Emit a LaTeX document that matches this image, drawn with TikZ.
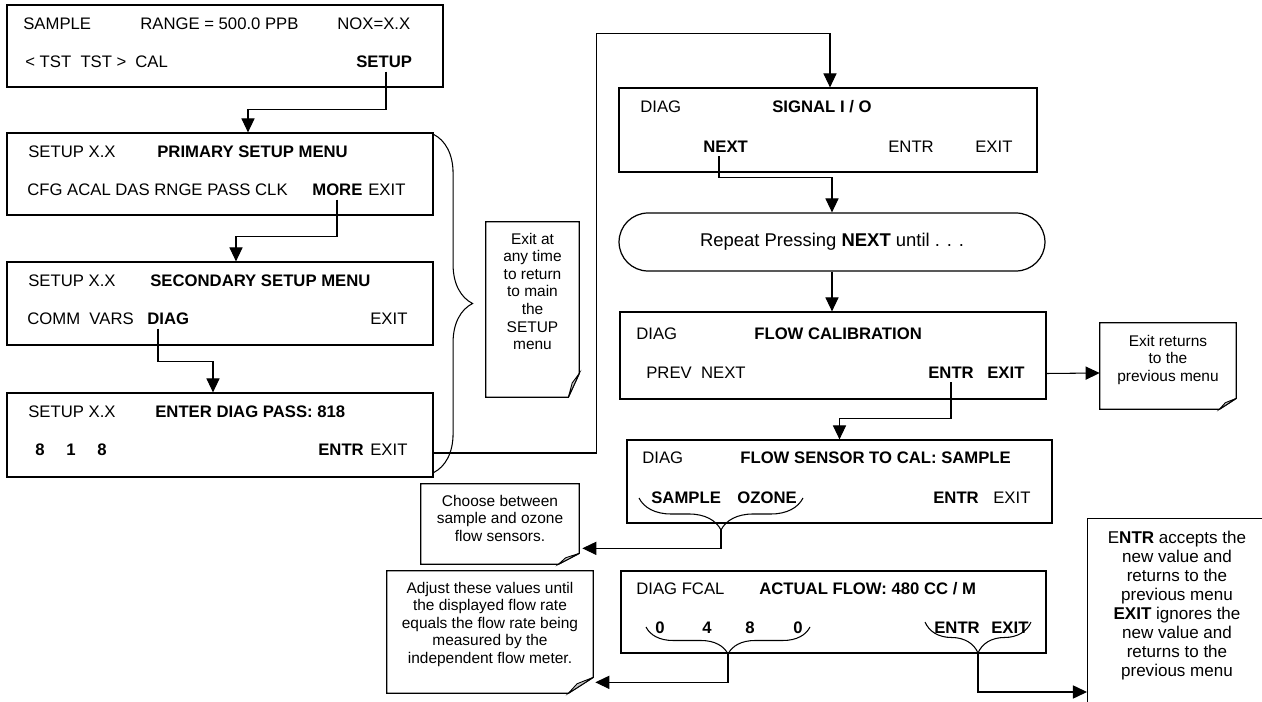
\documentclass[tikz,border=0pt]{standalone}
\usepackage{fontspec}
\setmainfont{Liberation Sans}
\usetikzlibrary{arrows.meta,positioning,calc,decorations.pathreplacing}
\newcommand{\scrfont}{\fontsize{9.5}{11.4}\selectfont}
\newcommand{\notefont}{\fontsize{8.8}{10}\selectfont}
\newcommand{\bignotefont}{\fontsize{9.7}{10.8}\selectfont}
% note frame with a folded lower right corner
\newcommand{\noteframe}[3]{%
  \draw[line width=0.7pt] (#1.north west) -- (#1.north east) -- ($(#1.south east)+(0,#3)$)
    -- ($(#1.south east)+(-#2,0)$) -- (#1.south west) -- cycle;
  \filldraw[fill=black!22, line width=0.5pt] ($(#1.south east)+(0,#3)$)
    -- ($(#1.south east)+(-0.65*#2,0.6*#3)$) -- ($(#1.south east)+(-#2,0)$) -- cycle;}

\begin{document}
\begin{tikzpicture}[x=0.02cm, y=0.02cm,
    screen/.style={draw, line width=0.7pt, inner sep=0pt, minimum height=1.64cm},
    key/.style={font=\scrfont, inner sep=0pt, anchor=base west},
    bkey/.style={key, font=\scrfont\bfseries},
    flow/.style={line width=0.6pt, -{Triangle[length=8pt, width=7.5pt]}},
    curly/.style={line width=0.6pt, decorate, decoration={brace, amplitude=#1}},
    notebox/.style={inner sep=0pt},
    notetext/.style={font=\notefont, align=center, inner sep=0pt, anchor=north}]
    \clip (0,0) rectangle (1262,-702);

    % left column: setup menus
    \node[screen, minimum width=8.72cm] (home) at (225,-46) {};
    \node[key]  (s1a) at (23,-30)  {SAMPLE};
    \node[key]  (s1b) at (140,-30) {RANGE = 500.0 PPB};
    \node[key]  (s1c) at (337,-30) {NOX=X.X};
    \node[key]  (s1d) at (25,-68)  {< TST\ \ TST >};
    \node[key]  (s1e) at (135,-68) {CAL};
    \node[bkey] (kSetup) at (356,-68) {SETUP};

    \node[screen, minimum width=8.52cm] (primary) at (220,-174) {};
    \node[key]  (s2a) at (28,-158)  {SETUP X.X};
    \node[bkey] (s2b) at (157,-158) {PRIMARY SETUP MENU};
    \node[key]  (s2c) at (27,-196)  {CFG ACAL DAS RNGE PASS CLK};
    \node[bkey] (kMore) at (312,-196) {MORE};
    \node[key]  (s2d) at (368,-196) {EXIT};

    \node[screen, minimum width=8.52cm, minimum height=1.66cm] (secondary) at (220,-303.5) {};
    \node[key]  (s3a) at (28,-287)  {SETUP X.X};
    \node[bkey] (s3b) at (150,-287) {SECONDARY SETUP MENU};
    \node[key]  (s3c) at (27,-325)  {COMM\ \ VARS};
    \node[bkey] (kDiag) at (147,-325) {DIAG};
    \node[key]  (s3d) at (370,-325) {EXIT};

    \node[screen, minimum width=8.52cm, minimum height=1.68cm] (pass) at (220,-435) {};
    \node[key]  (s4a) at (28,-418)  {SETUP X.X};
    \node[bkey] (s4b) at (155,-418) {ENTER DIAG PASS: 818};
    \foreach \x/\d in {35/8,66/1,97/8}
        \node[bkey] (pd\x) at (\x,-456) {\d};
    \node[bkey] (s4c) at (318,-456) {ENTR};
    \node[key]  (s4d) at (370,-456) {EXIT};

    \draw[flow] ($(kSetup.south west)+(30,-3)$) |- ($(primary.north)+(28,23)$) -- ++(0,-23);
    \draw[flow] ($(kMore.south west)+(25,-3)$) |- ($(secondary.north)+(16,25)$) -- ++(0,-25);
    \draw[flow] ($(kDiag.south west)+(11,-3)$) |- ($(pass.north)+(-7,31)$) -- ++(0,-31);

    \draw[curly=0.78cm] ($(primary.north east)+(0,-2)$) -- ($(pass.south east)+(0,5)$);
    \node[notebox, minimum width=1.86cm, minimum height=3.5cm] (anyNote) at (532.5,-309.5) {};
    \noteframe{anyNote}{11}{24}
    \node[notetext] (anyText) at ($(anyNote.north)+(0,-11)$)
        {Exit at\\any time\\to return\\to main\\the\\SETUP\\menu};

    % right column: diagnostics
    \node[screen, minimum width=8.36cm, minimum height=1.68cm] (signal) at (828,-130) {};
    \node[key]  (t1a) at (640,-113) {DIAG};
    \node[bkey] (t1b) at (772,-113) {SIGNAL I / O};
    \node[bkey] (kNext) at (703,-153) {NEXT};
    \node[key]  (t1c) at (888,-153) {ENTR};
    \node[key]  (t1d) at (975,-153) {EXIT};

    \draw[flow] ($(pass.east)+(0,-18)$) -- ++(163,0) |- ($(signal.north)+(2,54)$) -- ++(0,-54);

    \node[draw, line width=0.7pt, rounded corners=0.58cm, minimum width=8.52cm, minimum height=1.16cm,
        font=\fontsize{10.5}{12}\selectfont] (repeat) at (832,-242) {Repeat Pressing \textbf{NEXT} until . . .};
    \draw[flow] ($(kNext.south west)+(16,-3)$) |- ($(repeat.north)+(0,35)$) -- (repeat.north);

    \node[screen, minimum width=8.52cm, minimum height=1.74cm] (flowcal) at (833,-355.5) {};
    \node[key]  (t2a) at (636,-340) {DIAG};
    \node[bkey] (t2b) at (754,-340) {FLOW CALIBRATION};
    \node[key]  (t2c) at (646,-379) {PREV\ \ NEXT};
    \node[bkey] (kEntr) at (928,-379) {ENTR};
    \node[bkey] (t2d) at (987,-379) {EXIT};
    \draw[flow] (repeat.south) -- (repeat.south |- flowcal.north);

    \node[notebox, minimum width=2.72cm, minimum height=1.72cm] (exitNote) at (1168,-366) {};
    \noteframe{exitNote}{17}{11}
    \node[notetext] (exitText) at ($(exitNote.north)+(0,-12)$) {Exit returns\\to the\\previous menu};
    \draw[flow] ($(flowcal.east)+(0,-18)$) -- ($(exitNote.west)+(0,-7)$);

    \node[screen, minimum width=8.5cm, minimum height=1.66cm] (sensor) at (839.5,-481.5) {};
    \node[key]  (t3a) at (642,-464) {DIAG};
    \node[bkey] (t3b) at (740,-464) {FLOW SENSOR TO CAL: SAMPLE};
    \node[bkey] (t3c) at (651,-504) {SAMPLE};
    \node[bkey] (t3d) at (737,-504) {OZONE};
    \node[bkey] (t3e) at (933,-504) {ENTR};
    \node[key]  (t3f) at (993,-504) {EXIT};
    \draw[flow] ($(kEntr.south west)+(23,-3)$) |- ($(sensor.north)+(0,21)$) -- (sensor.north);

    \node[notebox, minimum width=3.16cm, minimum height=1.6cm] (chooseNote) at (500,-524) {};
    \noteframe{chooseNote}{21}{11}
    \node[notetext] (chooseText) at ($(chooseNote.north)+(0,-11)$)
        {Choose between\\sample and ozone\\flow sensors.};
    \draw[curly=0.64cm] (803,-498) -- (639,-498);
    \coordinate (selTip) at (721,-530);
    \draw[flow] (selTip) |- ($(chooseNote.south east)+(3,16)$);

    \node[screen, minimum width=8.5cm] (actual) at (833.5,-612) {};
    \node[key]  (t4a) at (636,-595) {DIAG FCAL};
    \node[bkey] (t4b) at (759,-595) {ACTUAL FLOW: 480 CC / M};
    \foreach \x/\d in {655/0,702/4,745/8,793/0}
        \node[bkey] (fd\x) at (\x,-634) {\d};
    \node[bkey] (t4c) at (934,-634) {ENTR};
    \node[bkey] (t4d) at (991,-634) {EXIT};

    \node[notebox, minimum width=4.12cm, minimum height=2.44cm] (adjustNote) at (490,-632) {};
    \noteframe{adjustNote}{25}{16}
    \node[notetext] (adjustText) at ($(adjustNote.north)+(0,-11)$)
        {Adjust these values until\\the displayed flow rate\\equals the flow rate being\\measured by the\\independent flow meter.};
    \draw[curly=0.54cm] (810,-627) -- (646,-627);
    \coordinate (digTip) at (728,-654);
    \draw[flow] (digTip) |- ($(adjustNote.south east)+(2,11)$);

    \node[notebox, draw, line width=0.7pt, minimum width=4.3cm, minimum height=4.5cm, anchor=north west]
        (entrNote) at (1087,-518) {};
    \node[notetext, font=\bignotefont] (entrText) at ($(entrNote.north west)+(90,-13)$)
        {E\textbf{NTR} accepts the\\new value and\\returns to the\\previous menu\\\textbf{EXIT} ignores the\\new value and\\returns to the\\previous menu};
    \draw[curly=0.62cm] (1031,-622) -- (925,-622);
    \coordinate (keyTip) at (978,-653);
    \draw[flow] (keyTip) |- ($(entrNote.north west)+(0,-174)$);
\end{tikzpicture}
\end{document}
